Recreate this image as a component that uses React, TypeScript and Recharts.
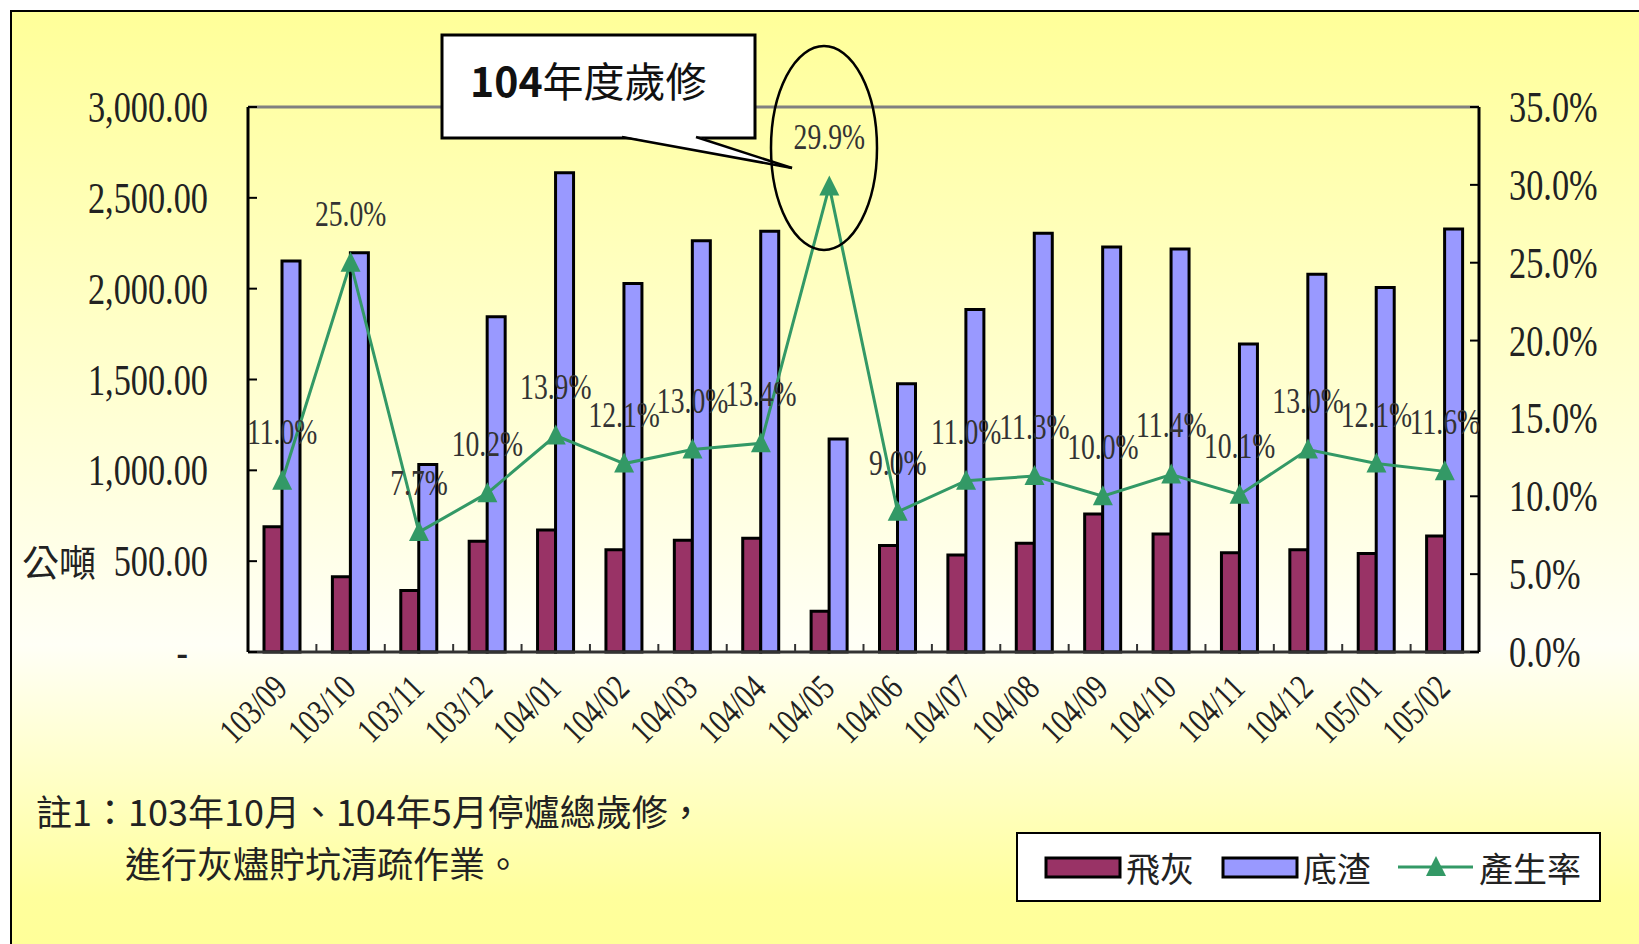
import React from 'react'
import { ComposedChart, Bar, Line, XAxis, YAxis, ReferenceLine, LabelList } from 'recharts'

// ─── data ──────────────────────────────────────────────────

const months = [
  '103/09', '103/10', '103/11', '103/12', '104/01', '104/02', '104/03', '104/04', '104/05',
  '104/06', '104/07', '104/08', '104/09', '104/10', '104/11', '104/12', '105/01', '105/02',
]
// 飛灰 (公噸)
const flyAsh = [690, 414, 339, 609, 672, 563, 615, 626, 224, 586, 534, 598, 759, 649, 546, 563, 542, 638]
// 底渣 (公噸)
const bottomAsh = [2152, 2198, 1032, 1845, 2638, 2029, 2264, 2316, 1172, 1477, 1885, 2305, 2230, 2218, 1695, 2080, 2006, 2328]
// 產生率 (%)
const rate = [11.0, 25.0, 7.7, 10.2, 13.9, 12.1, 13.0, 13.4, 29.9, 9.0, 11.0, 11.3, 10.0, 11.4, 10.1, 13.0, 12.1, 11.6]

const tonTicks = [0, 500, 1000, 1500, 2000, 2500, 3000]
const rateTicks = [0, 5, 10, 15, 20, 25, 30, 35]

const data = months.map((m, i) => ({ month: m, fly: flyAsh[i], bottom: bottomAsh[i], rate: rate[i] }))

// ─── styles ────────────────────────────────────────────────

const W = 1639
const H = 944
const LEFT_W = 248
const RIGHT_W = 160
const TOP = 107
const X_H = 292
const PLOT_W = W - LEFT_W - RIGHT_W

const FLY = '#993366'
const BOTTOM = '#9999FF'
const GREEN = '#339966'
const NUM_FONT = '"Liberation Serif", "Times New Roman", serif'
const CJK_FONT = '"Noto Sans CJK TC", "Noto Sans CJK SC", sans-serif'
const TEXT = '#222'

const fmtTon = (v: number) =>
  v.toLocaleString('en-US', { minimumFractionDigits: 2, maximumFractionDigits: 2 })

function LeftTick({ x, y, payload }: any) {
  const zero = payload.value === 0
  return (
    <g transform={`translate(${zero ? x - 20 : x},${y})`}>
      <text transform="scale(0.78,1)" textAnchor="end" dy={15} fontFamily={NUM_FONT} fontSize={44} fill={TEXT}>
        {zero ? '-' : fmtTon(payload.value)}
      </text>
    </g>
  )
}

function RightTick({ x, y, payload }: any) {
  return (
    <g transform={`translate(${x},${y})`}>
      <text transform="scale(0.78,1)" textAnchor="start" dy={15} fontFamily={NUM_FONT} fontSize={44} fill={TEXT}>
        {`${payload.value.toFixed(1)}%`}
      </text>
    </g>
  )
}

const TICK_MARGIN_X = 38

function MonthTick({ x, y, payload, index }: any) {
  const band = PLOT_W / months.length
  const axisY = y - TICK_MARGIN_X
  return (
    <g>
      {index < months.length - 1 && (
        <line x1={x + band / 2} x2={x + band / 2} y1={axisY} y2={axisY - 8} stroke="#333" strokeWidth={2} />
      )}
      <g transform={`translate(${x + 7},${y}) rotate(-45)`}>
        <text transform="scale(0.78,1)" textAnchor="end" fontFamily={NUM_FONT} fontSize={36} fill={TEXT}>
          {payload.value}
        </text>
      </g>
    </g>
  )
}

function RateLabel({ x, y, value }: any) {
  if (x == null || y == null) return null
  return (
    <g transform={`translate(${x},${y - 37})`}>
      <text transform="scale(0.79,1)" textAnchor="middle" fontFamily={NUM_FONT} fontSize={35} fill="#333">
        {`${Number(value).toFixed(1)}%`}
      </text>
    </g>
  )
}

function TriangleDot({ cx, cy, index }: any) {
  if (cx == null || cy == null) return <g key={index} />
  return (
    <polygon
      key={index}
      points={`${cx},${cy - 11} ${cx - 10},${cy + 9} ${cx + 10},${cy + 9}`}
      fill={GREEN}
    />
  )
}

// ─── page ──────────────────────────────────────────────────

export default function App() {
  const layer: React.CSSProperties = { position: 'absolute', left: 0, top: 0 }
  return (
    <div style={{ position: 'fixed', left: 0, top: 0, width: W, height: H, background: '#fff', overflow: 'hidden' }}>
      {/* background frame with gradient */}
      <svg width={W} height={H} style={layer}>
        <defs>
          <linearGradient id="bg" gradientUnits="userSpaceOnUse" x1={0} y1={11} x2={0} y2={944}>
            <stop offset="0" stopColor="#FFFF99" />
            <stop offset="0.68" stopColor="#FFFFF6" />
            <stop offset="0.95" stopColor="#FFFF9C" />
            <stop offset="1" stopColor="#FFFF99" />
          </linearGradient>
        </defs>
        <rect x={11} y={11} width={W + 40} height={H + 40} fill="url(#bg)" stroke="#000" strokeWidth={2} />
      </svg>

      <div style={layer}>
        <ComposedChart
          width={W}
          height={H}
          data={data}
          margin={{ top: TOP, right: 0, bottom: 0, left: 0 }}
          barGap={0}
        >
          <XAxis
            dataKey="month"
            height={X_H}
            interval={0}
            tickSize={0}
            tickMargin={TICK_MARGIN_X}
            tickLine={false}
            axisLine={{ stroke: '#333', strokeWidth: 3 }}
            tick={<MonthTick />}
          />
          <YAxis
            yAxisId="ton"
            orientation="left"
            width={LEFT_W}
            domain={[0, 3000]}
            ticks={tonTicks}
            tickSize={-9}
            tickMargin={49}
            tickLine={{ stroke: '#000', strokeWidth: 2 }}
            axisLine={{ stroke: '#000', strokeWidth: 3 }}
            tick={<LeftTick />}
          />
          <YAxis
            yAxisId="rate"
            orientation="right"
            width={RIGHT_W}
            domain={[0, 35]}
            ticks={rateTicks}
            tickSize={-9}
            tickMargin={39}
            tickLine={{ stroke: '#000', strokeWidth: 2 }}
            axisLine={{ stroke: '#000', strokeWidth: 3 }}
            tick={<RightTick />}
          />
          <ReferenceLine yAxisId="ton" y={3000} stroke="#808080" strokeWidth={3} />
          <Bar yAxisId="ton" dataKey="fly" name="飛灰" fill={FLY} stroke="#000" strokeWidth={3} barSize={18} isAnimationActive={false} />
          <Bar yAxisId="ton" dataKey="bottom" name="底渣" fill={BOTTOM} stroke="#000" strokeWidth={3} barSize={18} isAnimationActive={false} />
          <Line
            yAxisId="rate"
            dataKey="rate"
            name="產生率"
            type="linear"
            stroke={GREEN}
            strokeWidth={3}
            dot={TriangleDot}
            activeDot={false}
            isAnimationActive={false}
          >
            <LabelList dataKey="rate" content={RateLabel} />
          </Line>
        </ComposedChart>
      </div>

      {/* annotations, legend and note */}
      <svg width={W} height={H} style={{ ...layer, pointerEvents: 'none' }}>
        {/* callout */}
        <rect x={442} y={35} width={313} height={103} fill="#fff" stroke="#000" strokeWidth={3} />
        <polygon points="622,136 696,136 792,168" fill="#fff" stroke="none" />
        <line x1={622} y1={137} x2={792} y2={168} stroke="#000" strokeWidth={2.5} />
        <line x1={696} y1={137} x2={792} y2={168} stroke="#000" strokeWidth={2.5} />
        <text x={470} y={79} dominantBaseline="central" fontFamily={CJK_FONT} fontSize={41} fill="#111">
          <tspan fontWeight={700}>104</tspan>年度歲修
        </text>
        <ellipse cx={824} cy={148} rx={53} ry={102} fill="none" stroke="#000" strokeWidth={2.5} />

        {/* unit */}
        <text x={22} y={561} dominantBaseline="central" fontFamily={CJK_FONT} fontSize={37} fill={TEXT}>
          公噸
        </text>

        {/* note */}
        <text x={36} y={810} dominantBaseline="central" fontFamily={CJK_FONT} fontSize={36} fill={TEXT}>
          註1：103年10月、104年5月停爐總歲修，
        </text>
        <text x={125} y={862} dominantBaseline="central" fontFamily={CJK_FONT} fontSize={36} fill={TEXT}>
          進行灰燼貯坑清疏作業。
        </text>

        {/* legend */}
        <rect x={1017} y={833} width={583} height={68} fill="#fff" stroke="#000" strokeWidth={2} />
        <rect x={1046} y={858} width={74} height={19} fill={FLY} stroke="#000" strokeWidth={3} />
        <text x={1126} y={867} dominantBaseline="central" fontFamily={CJK_FONT} fontSize={34} fill={TEXT}>飛灰</text>
        <rect x={1223} y={858} width={74} height={19} fill={BOTTOM} stroke="#000" strokeWidth={3} />
        <text x={1303} y={867} dominantBaseline="central" fontFamily={CJK_FONT} fontSize={34} fill={TEXT}>底渣</text>
        <line x1={1398} x2={1473} y1={867} y2={867} stroke={GREEN} strokeWidth={3} />
        <polygon points="1436,856 1426,876 1446,876" fill={GREEN} />
        <text x={1479} y={867} dominantBaseline="central" fontFamily={CJK_FONT} fontSize={34} fill={TEXT}>產生率</text>
      </svg>
    </div>
  )
}
